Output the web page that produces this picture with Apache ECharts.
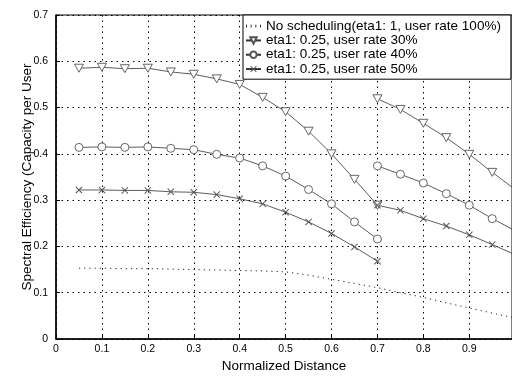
<!DOCTYPE html>
<html>
<head>
<meta charset="utf-8">
<script src="https://cdn.jsdelivr.net/npm/echarts@6/dist/echarts.min.js"></script>
<style>
  html, body { margin: 0; padding: 0; background: #fff; }
  #chart { width: 512px; height: 378px; }
</style>
</head>
<body>
<div id="chart"></div>
<script>
// x 位置
var xFirst = [0.05, 0.1, 0.15, 0.2, 0.25, 0.3, 0.35, 0.4, 0.45, 0.5, 0.55, 0.6, 0.65, 0.7];
var xSecond = [0.7, 0.75, 0.8, 0.85, 0.9, 0.95, 1.0];
var xAll = [0.05, 0.1, 0.15, 0.2, 0.25, 0.3, 0.35, 0.4, 0.45, 0.5,
            0.55, 0.6, 0.65, 0.7, 0.75, 0.8, 0.85, 0.9, 0.95, 1.0];

// 曲线数值
var noSched = [0.153, 0.153, 0.152, 0.152, 0.151, 0.150, 0.149, 0.148, 0.147, 0.145,
               0.138, 0.129, 0.120, 0.111, 0.100, 0.090, 0.078, 0.067, 0.056, 0.045];
var rate30a = [0.585, 0.587, 0.584, 0.585, 0.577, 0.572, 0.562, 0.550, 0.522, 0.491, 0.449, 0.400, 0.345, 0.289];
var rate30b = [0.519, 0.496, 0.466, 0.435, 0.399, 0.360, 0.323];
var rate40a = [0.414, 0.415, 0.414, 0.415, 0.412, 0.409, 0.399, 0.391, 0.374, 0.352, 0.323, 0.292, 0.253, 0.216];
var rate40b = [0.374, 0.356, 0.337, 0.314, 0.289, 0.260, 0.234];
var rate50a = [0.322, 0.322, 0.321, 0.321, 0.318, 0.317, 0.312, 0.303, 0.292, 0.274, 0.253, 0.228, 0.199, 0.168];
var rate50b = [0.289, 0.278, 0.260, 0.244, 0.225, 0.204, 0.182];

var names = [
  "No scheduling(eta1: 1, user rate 100%)",
  "eta1: 0.25, user rate 30%",
  "eta1: 0.25, user rate 40%",
  "eta1: 0.25, user rate 50%"
];

var xTicks = ["0", "0.1", "0.2", "0.3", "0.4", "0.5", "0.6", "0.7", "0.8", "0.9"];

function pairs(xs, ys) {
  return xs.map(function (x, i) { return [x, ys[i]]; });
}

var FONT = "Liberation Sans";
var triDown = "path://M0,0L10,0L5,9Z";
var cross = "path://M0,1L1,0L5,4L9,0L10,1L6,5L10,9L9,10L5,6L1,10L0,9L4,5Z";
var dotsIcon = "path://M0,0h1v3h-1zM5,0h1v3h-1zM10,0h1v3h-1zM15,0h1v3h-1z";

function markSeries(name, data, symbol, size, hollow) {
  return {
    name: name,
    type: "line",
    data: data,
    symbol: symbol,
    symbolSize: size,
    showAllSymbol: true,
    silent: true,
    lineStyle: { color: "#333", width: 0.8 },
    itemStyle: hollow
      ? { color: "#fff", borderColor: "#555", borderWidth: 0.9 }
      : { color: "#555", borderWidth: 0 },
    emphasis: { disabled: true },
    z: 3
  };
}

var chart = echarts.init(document.getElementById("chart"), null, { renderer: "canvas" });

var legendData = names.map(function (n) { return { name: n }; });
legendData[0].icon = dotsIcon;
legendData[0].itemStyle = { color: "#222" };

var option = {
  animation: false,
  backgroundColor: "#fff",
  textStyle: { fontFamily: FONT },
  grid: {
    left: 56, top: 15, right: 0, bottom: 34,
    show: true, borderColor: "#000", borderWidth: 1
  },
  legend: {
    data: legendData,
    orient: "vertical",
    left: 243,
    top: 15,
    padding: [4, 10, 3, 2],
    itemGap: 0,
    itemWidth: 15,
    itemHeight: 8,
    backgroundColor: "#fff",
    borderColor: "#000",
    borderWidth: 1,
    borderRadius: 0,
    selectedMode: false,
    textStyle: { fontFamily: FONT, fontSize: 13.5, lineHeight: 14.3, color: "#000" },
    z: 10
  },
  xAxis: {
    type: "value",
    min: 0, max: 0.993, interval: 0.1,
    name: "Normalized Distance",
    nameLocation: "middle",
    nameGap: 20,
    nameMoveOverlap: false,
    nameTextStyle: { fontFamily: FONT, fontSize: 13.5, color: "#000" },
    axisLine: { lineStyle: { color: "#000", width: 1.5 } },
    axisTick: { inside: true, length: 4, lineStyle: { color: "#000" } },
    axisLabel: {
      fontFamily: FONT, fontSize: 10.5, color: "#000", margin: 5,
      showMaxLabel: false,
      formatter: function (v) { var i = Math.round(v * 10); return i < 10 ? xTicks[i] : ""; }
    },
    splitLine: { show: true, lineStyle: { color: "#000", type: [1.5, 4], width: 1 } }
  },
  yAxis: {
    type: "value",
    min: 0, max: 0.7, interval: 0.1,
    name: "Spectral Efficiency (Capacity per User",
    nameLocation: "middle",
    nameGap: 22,
    nameMoveOverlap: false,
    nameTextStyle: { fontFamily: FONT, fontSize: 13.5, color: "#000" },
    axisLine: { show: true, lineStyle: { color: "#000", width: 1.5 } },
    axisTick: { show: true, inside: true, length: 4, lineStyle: { color: "#000" } },
    axisLabel: {
      fontFamily: FONT, fontSize: 10.5, color: "#000", margin: 8,
      formatter: function (v) { return v === 0 ? "0" : v.toFixed(1); }
    },
    splitLine: { show: true, lineStyle: { color: "#000", type: [1.5, 4], width: 1 } }
  },
  series: [
    {
      name: names[0],
      type: "line",
      data: pairs(xAll, noSched),
      symbol: "none",
      silent: true,
      lineStyle: { color: "#222", width: 1, type: [1.2, 4] },
      itemStyle: { color: "#222" },
      z: 2
    },
    markSeries(names[1], pairs(xFirst, rate30a), triDown, [9, 8], true),
    markSeries(names[1], pairs(xSecond, rate30b), triDown, [9, 8], true),
    markSeries(names[2], pairs(xFirst, rate40a), "circle", 8, true),
    markSeries(names[2], pairs(xSecond, rate40b), "circle", 8, true),
    markSeries(names[3], pairs(xFirst, rate50a), cross, 7, false),
    markSeries(names[3], pairs(xSecond, rate50b), cross, 7, false)
  ]
};

chart.setOption(option);
</script>
</body>
</html>
